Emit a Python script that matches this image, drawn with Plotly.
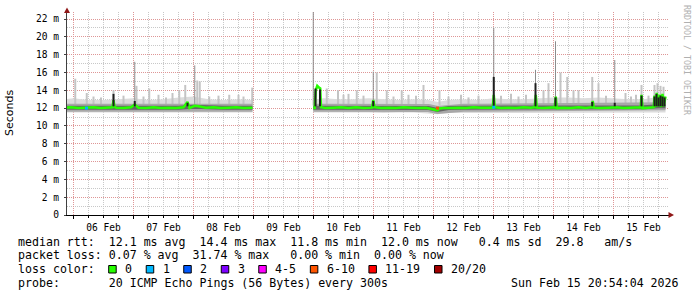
import pandas as pd
import plotly.graph_objects as go

BASE = pd.Timestamp("2026-02-06 00:00:00")

# ---------------- data (hours since 06 Feb 00:00, values in ms) ----------------
# smoke envelope (light cloud) and smoke centre per segment
env1_h = [-3.2, 0, 6, 12, 18, 24, 30, 36, 42, 48, 54, 60, 66, 71.6]
env1_hi = [13.0, 13.1, 12.9, 12.9, 13.0, 13.1, 12.9, 13.0, 13.2, 13.3, 13.0, 12.9, 13.0, 12.9]
env1_lo = [11.5, 11.45, 11.5, 11.5, 11.45, 11.5, 11.5, 11.45, 11.5, 11.5, 11.45, 11.5, 11.5, 11.5]
core1_v = [12.05, 12.05, 12.0, 12.05, 12.05, 12.1, 12.0, 12.05, 12.05, 12.15, 12.05, 12.05, 12.05, 12.05]

env2_h = [95.9, 100, 106, 112, 118, 124, 130, 136, 142, 145.6, 150, 156, 162, 168, 174,
          180, 186, 192, 198, 204, 210, 216, 222, 228, 234, 236.8]
env2_hi = [12.9, 13.1, 13.0, 13.0, 13.1, 13.0, 12.9, 13.0, 12.9, 12.7, 12.9, 13.0, 12.9, 13.1, 13.0,
           13.0, 13.1, 13.2, 13.2, 13.1, 13.2, 13.1, 13.0, 13.0, 13.3, 13.4]
env2_lo = [11.5, 11.5, 11.45, 11.5, 11.5, 11.45, 11.5, 11.5, 11.4, 11.3, 11.45, 11.5, 11.5, 11.45, 11.5,
           11.5, 11.45, 11.5, 11.5, 11.45, 11.5, 11.5, 11.5, 11.45, 11.5, 11.5]
core2_v = [12.05, 12.05, 12.05, 12.05, 12.05, 12.05, 12.0, 12.05, 12.0, 11.8, 12.0, 12.05, 12.05, 12.05,
           12.05, 12.05, 12.05, 12.1, 12.05, 12.05, 12.05, 12.1, 12.05, 12.1, 12.2, 12.2]

# median rtt
med1_h = [-3.2, -1, 2, 5, 8, 11, 14, 15.6, 16.0, 16.4, 17, 20, 23, 24.5, 26, 29, 32, 35, 38, 41,
          44, 45.6, 46.4, 48.5, 50, 53, 56, 59, 62, 65, 68, 71.6]
med1_v = [12.05, 12.1, 12.0, 12.05, 12.1, 12.0, 12.05, 12.1, 12.9, 12.15, 12.05, 12.0, 12.1, 12.4,
          12.05, 12.0, 12.1, 12.0, 12.05, 12.0, 12.1, 12.7, 12.0, 12.25, 12.2, 12.05, 12.1, 12.0,
          12.05, 12.1, 12.0, 12.05]

med2_h = [95.9, 96.5, 96.9, 97.5, 98.2, 98.7, 99.0, 101, 104, 107, 110, 113, 116, 119.4, 119.9,
          120.4, 123, 126, 129, 132, 135, 138, 141, 143, 144.5, 145.6, 146.5, 148, 151, 154, 157,
          160, 163, 166, 167.7, 168.1, 168.5, 171, 174, 177, 180, 183, 184.5, 184.9, 185.3, 188,
          191, 192.5, 192.9, 193.3, 196, 199, 202, 205, 207.3, 207.7, 208.1, 211, 214, 217, 220,
          223, 226.9, 227.2, 227.6, 230, 232.1, 232.4, 232.8, 233.3, 233.8, 234.5, 235.0, 235.6,
          236.1, 236.8]
med2_v = [12.0, 12.0, 14.0, 14.5, 14.3, 14.2, 12.1, 12.0, 12.05, 12.1, 12.0, 12.1, 12.0, 12.05, 12.9,
          12.1, 12.0, 12.05, 12.0, 12.1, 12.05, 12.0, 12.05, 11.95, 11.8, 11.75, 11.95, 12.0, 12.0,
          12.05, 12.0, 12.1, 12.05, 12.0, 12.05, 13.5, 12.1, 12.0, 12.05, 12.0, 12.1, 12.05, 12.1,
          13.5, 12.05, 12.0, 12.05, 12.1, 13.3, 12.0, 12.05, 12.0, 12.1, 12.0, 12.1, 12.8, 12.05,
          12.0, 12.05, 12.1, 12.0, 12.05, 12.1, 13.5, 12.0, 12.05, 12.1, 13.4, 12.1, 13.7, 12.2,
          13.5, 12.1, 13.6, 12.2, 13.3]

# light smoke spikes (single high pings)
spike_h = [0.7, 5.3, 8, 11, 16.0, 20, 25.2, 28, 30.3, 34, 37, 39.6, 42.3, 44.7, 49.5, 50.5, 54.3,
           58, 62.3, 66, 68, 71.5,
           101.3, 105.8, 108, 110, 113.3, 116, 121.3, 125.3, 128, 131.3, 134, 137, 140, 146.4,
           150, 155, 158, 162, 171, 175, 178, 181, 188, 190, 194.8, 197.5, 200, 202, 207.5,
           210, 213, 220.8, 223, 225, 227.2, 230, 232.4, 233.6, 234.8, 236.0]
spike_top = [15.3, 13.7, 13.3, 13.2, 14.0, 13.4, 14.5, 13.3, 14.2, 13.5, 13.2, 13.7, 14.0, 14.6, 15.1,
             15.0, 13.3, 13.4, 13.5, 13.5, 13.3, 14.3,
             14.2, 14.0, 13.5, 13.6, 14.0, 13.4, 16.0, 14.0, 13.3, 14.0, 13.5, 13.4, 14.6, 14.0,
             13.3, 13.5, 13.2, 13.4, 13.4, 13.6, 13.3, 13.5, 14.0, 14.8, 16.0, 15.5, 14.0, 14.0,
             15.5, 14.8, 13.4, 13.7, 13.3, 13.5, 14.6, 13.4, 14.6, 14.8, 14.5, 14.4]

# tall thin peaks
peak_h = [24.5, 48.5, 95.9, 119.9, 168.1, 184.8, 192.8, 216.5]
peak_top = [17.2, 16.8, 22.8, 16.1, 21.0, 16.3, 19.5, 17.4]

# dark blocks (most pings high)
block_h = [16.0, 24.5, 45.6, 96.8, 98.6, 119.9, 168.1, 184.8, 192.8, 207.5, 216.5, 227.2,
           232.4, 233.2, 234.0, 234.8, 235.6, 236.4]
block_top = [13.6, 12.8, 12.6, 14.2, 14.1, 12.8, 15.5, 14.8, 13.2, 12.7, 12.6, 13.4,
             13.3, 13.6, 13.2, 13.4, 13.3, 13.2]

# loss-coloured samples on the median
loss_h = [5.2, 145.6, 168.1]
loss_v = [12.0, 12.0, 12.1]
loss_cat = ["1", "6-10", "1"]

# legend
loss_labels = ["0", "1", "2", "3", "4-5", "6-10", "11-19", "20/20"]
loss_colors = ["#26ff00", "#00b8ff", "#0059ff", "#7e00ff", "#ff00ff", "#ff5500", "#ff0000", "#a10000"]

ytick_vals = [0, 2, 4, 6, 8, 10, 12, 14, 16, 18, 20, 22]
ytick_text = ["0", "2 m", "4 m", "6 m", "8 m", "10 m", "12 m", "14 m", "16 m", "18 m", "20 m", "22 m"]

line1 = "median rtt:  12.1 ms avg  14.4 ms max  11.8 ms min  12.0 ms now   0.4 ms sd  29.8   am/s"
line2 = "packet loss: 0.07 % avg  31.74 % max   0.00 % min  0.00 % now"
line3 = "loss color:"
line4 = "probe:       20 ICMP Echo Pings (56 Bytes) every 300s"
stamp = "Sun Feb 15 20:54:04 2026"
watermark = "RRDTOOL / TOBI OETIKER"
ytitle = "Seconds"

# ---------------- figure ----------------
W, H = 697, 297
ML, MR, MT, MB = 67, 28, 12, 82
PW, PH = W - ML - MR, H - MT - MB


def T(hs):
    return [BASE + pd.Timedelta(hours=h) for h in hs]


def px(x):
    return (x - ML) / PW


def py(y):
    return (H - MB - y) / PH


def vsegs(hs, tops, base):
    xs, ys = [], []
    for h, top in zip(hs, tops):
        tt = BASE + pd.Timedelta(hours=h)
        xs += [tt, tt, None]
        ys += [base, top, None]
    return xs, ys


fig = go.Figure()

for eh, ehi, elo in [(env1_h, env1_hi, env1_lo), (env2_h, env2_hi, env2_lo)]:
    fig.add_trace(go.Scatter(x=T(eh) + T(eh[::-1]), y=ehi + elo[::-1], fill="toself",
                             fillcolor="#dcdcdc", line=dict(width=0), mode="lines",
                             hoverinfo="skip"))

sx, sy = vsegs(spike_h, spike_top, 12.3)
fig.add_trace(go.Scatter(x=sx, y=sy, mode="lines", line=dict(color="#c4c4c4", width=2),
                         hoverinfo="skip"))
kx, ky = vsegs(peak_h, peak_top, 12.3)
fig.add_trace(go.Scatter(x=kx, y=ky, mode="lines", line=dict(color="#8c8c8c", width=1),
                         hoverinfo="skip"))

cx = T(env1_h) + [None] + T(env2_h)
cy = core1_v + [None] + core2_v
fig.add_trace(go.Scatter(x=cx, y=cy, mode="lines", line=dict(color="#a8a8a8", width=8),
                         hoverinfo="skip"))
fig.add_trace(go.Scatter(x=cx, y=cy, mode="lines", line=dict(color="#666666", width=4),
                         hoverinfo="skip"))

mx = T(med1_h) + [None] + T(med2_h)
my = med1_v + [None] + med2_v
fig.add_trace(go.Scatter(x=mx, y=my, mode="lines", line=dict(color="#26ff00", width=2.5),
                         hoverinfo="skip"))
bx, by = vsegs(block_h, block_top, 12.2)
fig.add_trace(go.Scatter(x=bx, y=by, mode="lines", line=dict(color="#1e1e1e", width=2),
                         hoverinfo="skip"))
cmap = dict(zip(loss_labels, loss_colors))
fig.add_trace(go.Scatter(x=T(loss_h), y=loss_v, mode="markers",
                         marker=dict(symbol="square", size=3, color=[cmap[c] for c in loss_cat],
                                     line=dict(width=0)),
                         hoverinfo="skip"))

MAJ = "rgb(222,150,150)"
MIN = "rgb(200,200,200)"
MONO = "DejaVu Sans Mono"

fig.update_layout(
    width=W, height=H, margin=dict(l=ML, r=MR, t=MT, b=MB, pad=0),
    plot_bgcolor="white", paper_bgcolor="white", showlegend=False,
    font=dict(family=MONO, size=9.6, color="black"),
    xaxis=dict(type="date",
               range=[str(BASE - pd.Timedelta(hours=2.6)), str(BASE + pd.Timedelta(hours=238.2))],
               tick0=str(BASE), dtick=86400000, tickformat="%d %b", ticklabelmode="period",
               showgrid=True, gridcolor=MAJ, griddash="1px,1px", gridwidth=1,
               ticks="outside", ticklen=3, tickcolor="#000", showline=True, linecolor="#000",
               linewidth=1, zeroline=False, fixedrange=True, automargin=False,
               tickfont=dict(family=MONO, size=9.6, color="black"),
               minor=dict(dtick=6 * 3600000, tick0=str(BASE), showgrid=True, gridcolor=MIN,
                          griddash="1px,1px", gridwidth=1, ticks="outside", ticklen=2,
                          tickcolor="#000")),
    yaxis=dict(range=[0, 22.79], tickmode="array", tickvals=ytick_vals, ticktext=ytick_text,
               showgrid=True, gridcolor=MAJ, griddash="1px,1px", gridwidth=1,
               ticks="outside", ticklen=2, tickcolor="#404040", showline=True,
               linecolor="#404040", linewidth=1, zeroline=False, fixedrange=True,
               automargin=False, ticklabelstandoff=3,
               tickfont=dict(family=MONO, size=9.6, color="black"),
               minor=dict(dtick=1, tick0=0, showgrid=True, gridcolor=MIN, griddash="1px,1px",
                          gridwidth=1)),
)

ARROW = "#901818"
shapes = [
    dict(type="path", xref="paper", yref="paper", fillcolor=ARROW, line=dict(width=0),
         path=f"M {px(64)} {py(13)} L {px(70)} {py(13)} L {px(67)} {py(7.5)} Z"),
    dict(type="path", xref="paper", yref="paper", fillcolor=ARROW, line=dict(width=0),
         path=f"M {px(668.5)} {py(212)} L {px(668.5)} {py(218)} L {px(674)} {py(215)} Z"),
]

NB = "\u00a0"
LF = 11.6
CW = 7.02
ann = []


def txt(s, x, y, size=LF, xanchor="left", color="black", family=MONO, angle=0):
    ann.append(dict(text=s.replace(" ", NB), x=px(x), y=py(y), xref="paper", yref="paper",
                    xanchor=xanchor, yanchor="middle", showarrow=False, textangle=angle,
                    font=dict(family=family, size=size, color=color)))


txt(line1, 16, 241.5)
txt(line2, 16, 255.3)
txt(line3, 16, 269.3)
txt(line4, 16, 282.7)
txt(stamp, 680.5, 282.7, xanchor="right")

bx0 = 108.7
for lab, col in zip(loss_labels, loss_colors):
    shapes.append(dict(type="rect", xref="paper", yref="paper", x0=px(bx0), x1=px(bx0 + 7.5),
                       y0=py(265.5), y1=py(273), fillcolor=col, line=dict(color="black", width=1)))
    tx = bx0 + 14.3
    txt(lab, tx, 269.3)
    bx0 = tx + len(lab) * CW + 16.2

ann.append(dict(text=ytitle, x=px(10), y=py(113), xref="paper", yref="paper", xanchor="center",
                yanchor="middle", showarrow=False, textangle=-90,
                font=dict(family="DejaVu Sans", size=11, color="black")))
ann.append(dict(text=watermark.replace(" ", NB), x=px(687), y=py(60), xref="paper", yref="paper",
                xanchor="center", yanchor="middle", showarrow=False, textangle=90,
                font=dict(family=MONO, size=8.3, color="#b0b0b0")))

fig.update_layout(shapes=shapes, annotations=ann)
fig.write_html("out.html", config={"displayModeBar": False})
